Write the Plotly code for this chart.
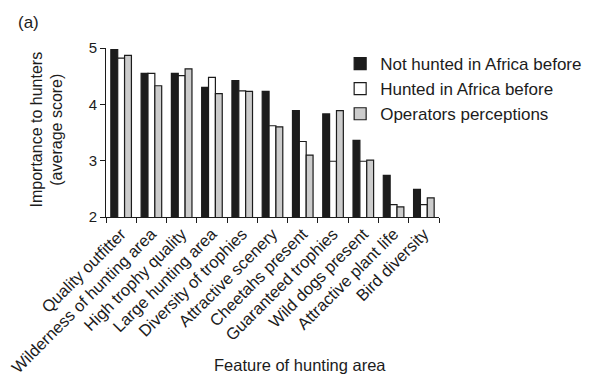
import plotly.graph_objects as go

features = [
    "Quality outfitter", "Wilderness of hunting area", "High trophy quality",
    "Large hunting area", "Diversity of trophies", "Attractive scenery",
    "Cheetahs present", "Guaranteed trophies", "Wild dogs present",
    "Attractive plant life", "Bird diversity",
]
not_hunted = [4.97, 4.55, 4.55, 4.30, 4.42, 4.23, 3.89, 3.83, 3.36, 2.74, 2.49]
hunted = [4.82, 4.55, 4.51, 4.48, 4.24, 3.62, 3.34, 2.99, 2.99, 2.22, 2.22]
operators = [4.87, 4.33, 4.63, 4.19, 4.23, 3.60, 3.10, 3.89, 3.01, 2.18, 2.34]

series = [
    ("Not hunted in Africa before", not_hunted, "#1c1c1c"),
    ("Hunted in Africa before", hunted, "#ffffff"),
    ("Operators perceptions", operators, "#cccccc"),
]

FONT = "Liberation Sans, Arial, sans-serif"

# plot area in pixels
L, R, T, B = 106, 146, 48, 159
W, H = 599, 376
PW, PH = W - L - R, H - T - B

fig = go.Figure()
for name, vals, col in series:
    fig.add_trace(go.Bar(
        x=features, y=vals, name=name,
        marker=dict(color=col, line=dict(color="#1c1c1c", width=1.2)),
        base=0,
    ))

fig.update_layout(
    width=W, height=H,
    margin=dict(l=L, r=R, t=T, b=B),
    paper_bgcolor="white", plot_bgcolor="white",
    barmode="group", bargap=0.32, bargroupgap=0,
    font=dict(family=FONT, size=13, color="#1c1c1c"),
    showlegend=True,
    legend=dict(
        x=(350 - L) / PW, y=1 - (46 - T) / PH, xanchor="left", yanchor="top",
        font=dict(size=17), tracegroupgap=0, itemwidth=30,
        bgcolor="rgba(0,0,0,0)",
    ),
    xaxis=dict(
        showline=True, linecolor="#1c1c1c", linewidth=1, automargin=False,
        ticks="outside", tickson="boundaries", ticklen=5, tickcolor="#1c1c1c",
        tickangle=-45, tickfont=dict(size=16.5), showgrid=False,
    ),
    yaxis=dict(
        range=[2, 5], tickvals=[2, 3, 4, 5], showline=True, linecolor="#1c1c1c",
        linewidth=1, ticks="outside", ticklen=5, tickcolor="#1c1c1c",
        automargin=False, tickfont=dict(size=15), showgrid=False,
        zeroline=False,
    ),
    annotations=[
        dict(text="(a)", xref="paper", yref="paper",
             x=(25 - L) / PW, y=1 + (T - 22) / PH, showarrow=False,
             xanchor="center", yanchor="middle", font=dict(size=17)),
        dict(text="Importance to hunters<br>(average score)", textangle=-90,
             xref="paper", yref="paper", x=(44 - L) / PW, y=1 - (130 - T) / PH,
             showarrow=False, xanchor="center", yanchor="middle",
             font=dict(size=16)),
        dict(text="Feature of hunting area", xref="paper", yref="paper",
             x=(308 - L) / PW, y=1 - (365 - T) / PH, showarrow=False,
             xanchor="center", yanchor="middle", font=dict(size=16.5)),
    ],
)

fig.write_html("out.html")
